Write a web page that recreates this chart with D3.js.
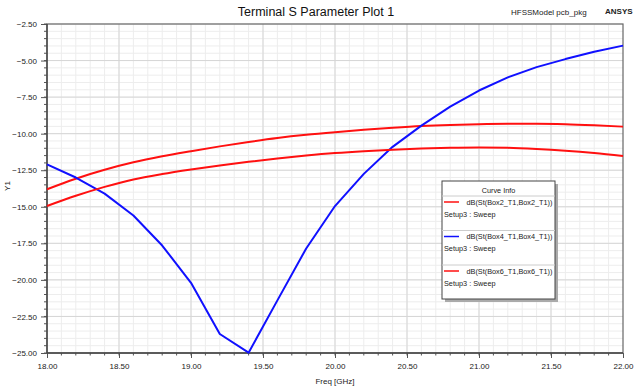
<!DOCTYPE html>
<html>
<head>
<meta charset="utf-8">
<title>Terminal S Parameter Plot 1</title>
<script src="https://cdn.jsdelivr.net/npm/d3@7"></script>
<style>
  body { margin: 0; background: #fff; }
  text { font-family: "Liberation Sans", Arial, sans-serif; }
  .tick text { font-size: 8px; fill: #222; }
  .grid-minor line { stroke: #ededed; }
  .grid-major line { stroke: #d6d6d6; }
</style>
</head>
<body>
<script>
// data (GHz, dB)
var freq = [18.0, 18.2, 18.4, 18.6, 18.8, 19.0, 19.2, 19.4, 19.6, 19.8, 20.0,
            20.2, 20.4, 20.6, 20.8, 21.0, 21.2, 21.4, 21.6, 21.8, 22.0];
var box2 = [-13.80, -13.08, -12.47, -11.96, -11.55, -11.20, -10.87, -10.57, -10.30, -10.08, -9.90,
            -9.74, -9.60, -9.48, -9.40, -9.35, -9.33, -9.33, -9.36, -9.43, -9.52];
var box4 = [-12.10, -13.00, -14.10, -15.60, -17.65, -20.20, -23.70, -24.98, -21.40, -17.85, -14.95,
            -12.75, -10.90, -9.45, -8.15, -7.05, -6.15, -5.45, -4.90, -4.40, -3.98];
var box6 = [-14.95, -14.25, -13.64, -13.13, -12.76, -12.45, -12.17, -11.92, -11.70, -11.50, -11.33,
            -11.20, -11.10, -11.02, -10.97, -10.95, -10.97, -11.05, -11.17, -11.33, -11.53];
var curveNames = ["dB(St(Box2_T1,Box2_T1))", "dB(St(Box4_T1,Box4_T1))", "dB(St(Box6_T1,Box6_T1))"];
var curveColors = ["#ff1010", "#1010ff", "#ff1010"];
var xTicks = [18.0, 18.5, 19.0, 19.5, 20.0, 20.5, 21.0, 21.5, 22.0];
var yTicks = [-2.5, -5, -7.5, -10, -12.5, -15, -17.5, -20, -22.5, -25];

var W = 640, H = 387;
var margin = { top: 24, right: 17, bottom: 34, left: 47 };
var width = W - margin.left - margin.right;
var height = H - margin.top - margin.bottom;

var svg = d3.select("body").append("svg").attr("width", W).attr("height", H);

var x = d3.scaleLinear().domain([18, 22]).range([0, width]);
var y = d3.scaleLinear().domain([-25, -2.5]).range([height, 0]);

var g = svg.append("g").attr("transform", "translate(" + margin.left + "," + margin.top + ")");

// grid
var xMinor = d3.range(181, 220).map(function (d) { return d / 10; });
var yMinor = d3.range(-50, -4).map(function (d) { return d / 2; });
g.append("g").attr("class", "grid-minor")
  .selectAll("line.v").data(xMinor).enter().append("line")
  .attr("x1", function (d) { return x(d); }).attr("x2", function (d) { return x(d); })
  .attr("y1", 0).attr("y2", height);
g.select(".grid-minor").selectAll("line.h").data(yMinor).enter().append("line")
  .attr("y1", function (d) { return y(d); }).attr("y2", function (d) { return y(d); })
  .attr("x1", 0).attr("x2", width);
g.append("g").attr("class", "grid-major")
  .selectAll("line.v").data(xTicks.slice(1, -1)).enter().append("line")
  .attr("x1", function (d) { return x(d); }).attr("x2", function (d) { return x(d); })
  .attr("y1", 0).attr("y2", height);
g.select(".grid-major").selectAll("line.h").data(yTicks.slice(1, -1)).enter().append("line")
  .attr("y1", function (d) { return y(d); }).attr("y2", function (d) { return y(d); })
  .attr("x1", 0).attr("x2", width);

// axes
var xAxis = d3.axisBottom(x).tickValues(xTicks).tickSize(5).tickPadding(5)
  .tickFormat(d3.format(".2f"));
var yAxis = d3.axisLeft(y).tickValues(yTicks).tickSize(6).tickPadding(4)
  .tickFormat(d3.format(".2f"));
var xg = g.append("g").attr("transform", "translate(0," + height + ")").call(xAxis);
var yg = g.append("g").call(yAxis);
xg.select(".domain").remove();
yg.select(".domain").remove();
xg.selectAll(".tick line").attr("stroke", "#555");
yg.selectAll(".tick line").attr("stroke", "#555");

// minor ticks
g.append("g").selectAll("line").data(xMinor).enter().append("line")
  .attr("x1", function (d) { return x(d); }).attr("x2", function (d) { return x(d); })
  .attr("y1", height).attr("y2", height + 2.5).attr("stroke", "#555");
g.append("g").selectAll("line").data(yMinor).enter().append("line")
  .attr("y1", function (d) { return y(d); }).attr("y2", function (d) { return y(d); })
  .attr("x1", -3).attr("x2", 0).attr("stroke", "#555");

// frame
g.append("rect").attr("width", width).attr("height", height)
  .attr("fill", "none").attr("stroke", "#666").attr("stroke-width", 1.2);
g.append("line").attr("x1", 0).attr("x2", 0).attr("y1", 0).attr("y2", height)
  .attr("stroke", "#444").attr("stroke-width", 1.4);
g.append("line").attr("x1", 0).attr("x2", width).attr("y1", height).attr("y2", height)
  .attr("stroke", "#444").attr("stroke-width", 1.4);

// curves (reds are smooth, blue has sharp sweep corners)
var series = [box2, box4, box6];
var smooth = d3.line()
  .x(function (d, i) { return x(freq[i]); })
  .y(function (d) { return y(d); })
  .curve(d3.curveMonotoneX);
var straight = d3.line()
  .x(function (d, i) { return x(freq[i]); })
  .y(function (d) { return y(d); });
g.append("g").selectAll("path").data(series).enter().append("path")
  .attr("d", function (d, i) { return i === 1 ? straight(d) : smooth(d); })
  .attr("fill", "none")
  .attr("stroke", function (d, i) { return curveColors[i]; })
  .attr("stroke-width", 2)
  .attr("stroke-linejoin", "round");

// titles
svg.append("text").attr("x", 316).attr("y", 16).attr("text-anchor", "middle")
  .attr("font-size", 12.5).attr("fill", "#111").text("Terminal S Parameter Plot 1");
svg.append("text").attr("x", 511).attr("y", 15).attr("font-size", 8).attr("fill", "#222")
  .text("HFSSModel pcb_pkg");
svg.append("text").attr("x", 605).attr("y", 14).attr("font-size", 8).attr("font-weight", "bold")
  .attr("fill", "#222").text("ANSYS");
svg.append("text").attr("x", 335).attr("y", 384).attr("text-anchor", "middle")
  .attr("font-size", 8).attr("fill", "#222").text("Freq [GHz]");
svg.append("text").attr("transform", "translate(10,186) rotate(-90)").attr("text-anchor", "middle")
  .attr("font-size", 8).attr("fill", "#222").text("Y1");

// legend
var lg = svg.append("g").attr("transform", "translate(442,181)");
var lw = 113, lh = 118;
lg.append("rect").attr("x", 3).attr("y", 3).attr("width", lw).attr("height", lh).attr("fill", "#aaa");
lg.append("rect").attr("width", lw).attr("height", lh).attr("fill", "#fff")
  .attr("stroke", "#444").attr("stroke-width", 1);
lg.append("text").attr("x", lw / 2).attr("y", 11.5).attr("text-anchor", "middle")
  .attr("font-size", 7.3).attr("fill", "#222").text("Curve Info");
var item = lg.selectAll("g.item").data(curveNames).enter().append("g")
  .attr("transform", function (d, i) { return "translate(0," + (15 + i * 34.5) + ")"; });
item.append("line").attr("x1", 0).attr("x2", lw).attr("y1", 0).attr("y2", 0)
  .attr("stroke", "#ccc");
item.append("line").attr("x1", 2).attr("x2", 17).attr("y1", 6).attr("y2", 6)
  .attr("stroke", function (d, i) { return curveColors[i]; }).attr("stroke-width", 1.5);
item.append("text").attr("x", 24.5).attr("y", 8.5).attr("font-size", 7.3).attr("fill", "#222")
  .text(function (d) { return d; });
item.append("text").attr("x", 2).attr("y", 20.5).attr("font-size", 7.3).attr("fill", "#222")
  .text("Setup3 : Sweep");
</script>
</body>
</html>
